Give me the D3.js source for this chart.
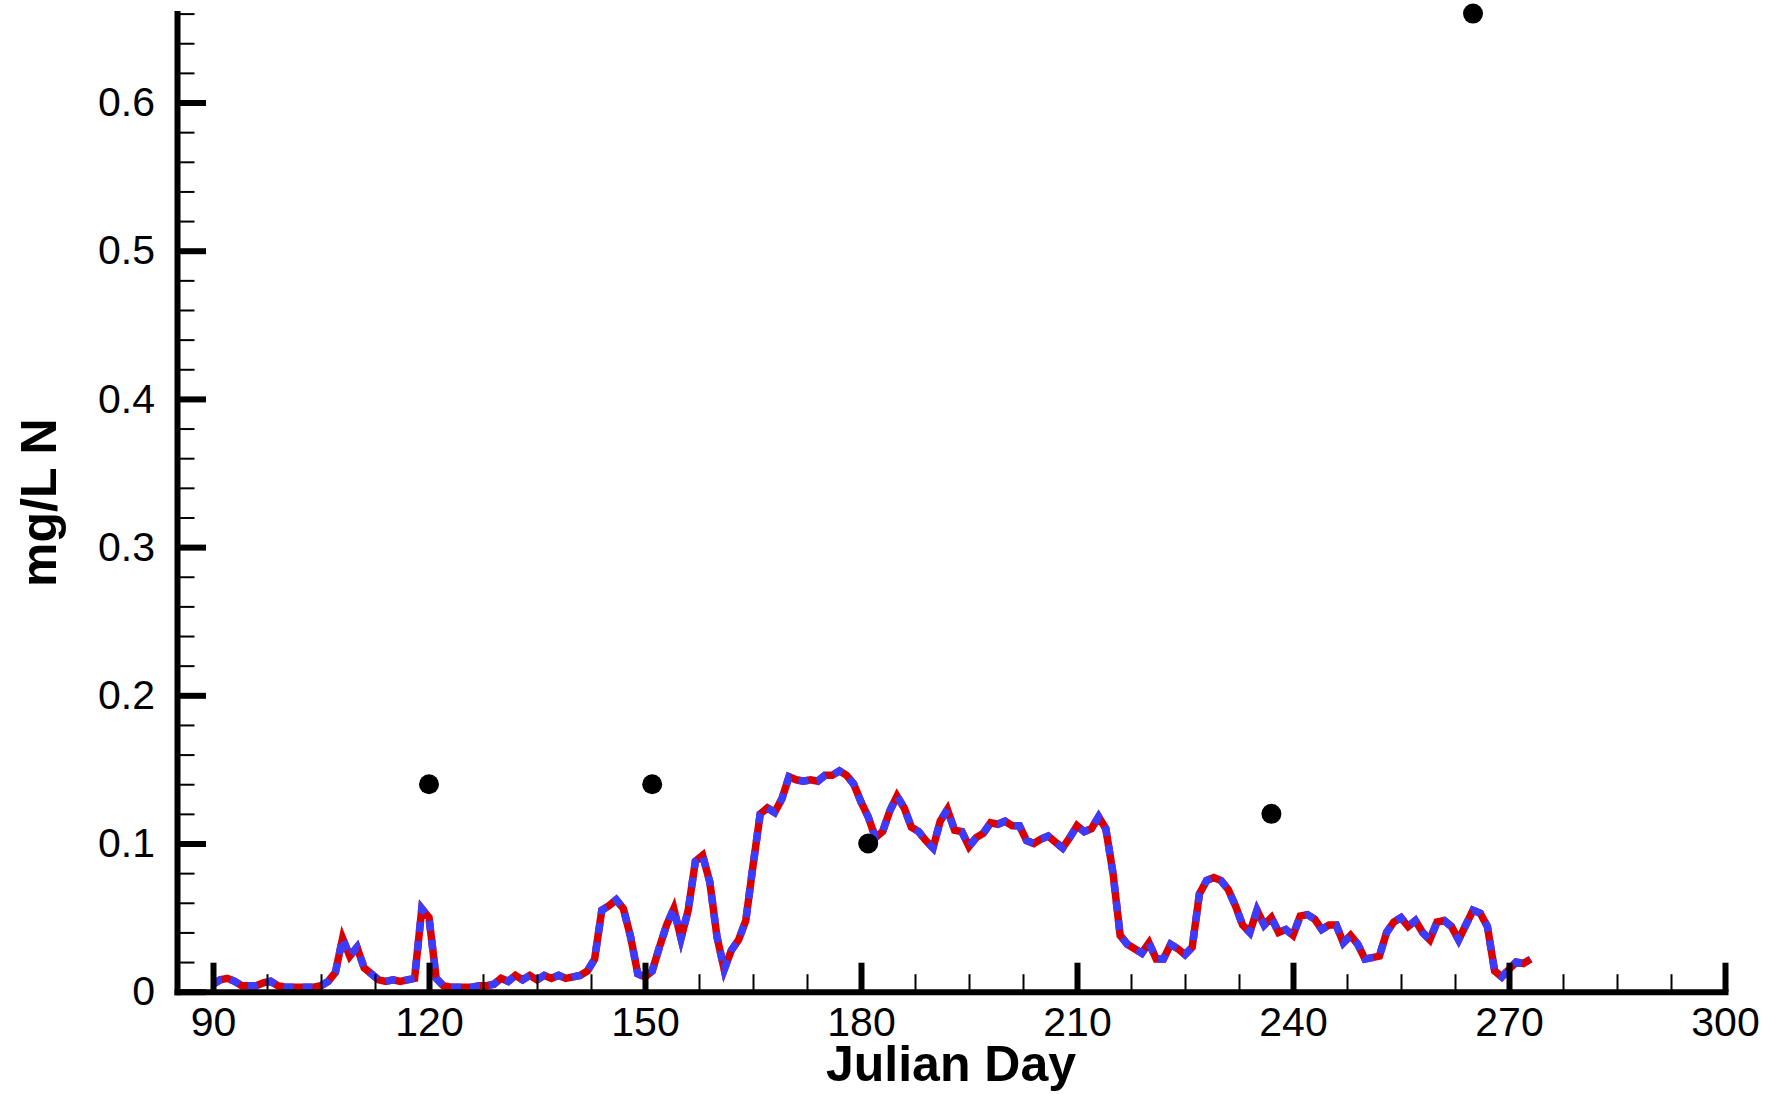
<!DOCTYPE html>
<html>
<head>
<meta charset="utf-8">
<script src="https://cdn.jsdelivr.net/npm/d3@7"></script>
<style>
  html, body { margin: 0; padding: 0; background: #fff; }
  svg { display: block; }
  text { font-family: "Liberation Sans", Arial, Helvetica, sans-serif; fill: #000; }
</style>
</head>
<body>
<svg id="chart" width="1767" height="1094"></svg>
<script>
// ---- Data ----
const firstDay = 90;                 // simulated series: one value per Julian day starting here
const modelValues = [
  0.005, 0.008, 0.009, 0.007, 0.004, 0.004, 0.004, 0.006, 0.007, 0.004,
  0.003, 0.003, 0.003, 0.003, 0.003, 0.004, 0.007, 0.013, 0.036, 0.024,
  0.030, 0.016, 0.012, 0.008, 0.007, 0.008, 0.007, 0.008, 0.009, 0.056,
  0.050, 0.009, 0.004, 0.003, 0.003, 0.003, 0.003, 0.004, 0.004, 0.005,
  0.009, 0.007, 0.011, 0.008, 0.011, 0.008, 0.011, 0.009, 0.011, 0.009,
  0.010, 0.011, 0.014, 0.022, 0.055, 0.058, 0.062, 0.056, 0.037, 0.012,
  0.010, 0.014, 0.030, 0.045, 0.056, 0.036, 0.055, 0.088, 0.092, 0.074,
  0.037, 0.015, 0.028, 0.035, 0.048, 0.085, 0.120, 0.124, 0.121, 0.130,
  0.145, 0.143, 0.142, 0.143, 0.142, 0.146, 0.146, 0.149, 0.146, 0.140,
  0.128, 0.118, 0.104, 0.108, 0.122, 0.132, 0.124, 0.111, 0.108, 0.102,
  0.097, 0.115, 0.123, 0.109, 0.108, 0.098, 0.104, 0.107, 0.114, 0.113,
  0.115, 0.112, 0.112, 0.102, 0.100, 0.103, 0.105, 0.101, 0.097, 0.104,
  0.112, 0.108, 0.110, 0.118, 0.110, 0.080, 0.038, 0.032, 0.029, 0.026,
  0.033, 0.022, 0.022, 0.032, 0.029, 0.025, 0.030, 0.066, 0.075, 0.077,
  0.075, 0.069, 0.058, 0.045, 0.040, 0.055, 0.045, 0.050, 0.040, 0.042,
  0.038, 0.051, 0.052, 0.049, 0.042, 0.045, 0.045, 0.033, 0.038, 0.032,
  0.022, 0.023, 0.024, 0.040, 0.047, 0.050, 0.044, 0.048, 0.040, 0.035,
  0.047, 0.048, 0.044, 0.035, 0.045, 0.055, 0.053, 0.044, 0.014, 0.010,
  0.015, 0.020, 0.019, 0.022
];
// observations (black dots)
const obsDays   = [120, 151, 181, 237, 265];
const obsValues = [0.14, 0.14, 0.10, 0.12, 0.66];

// axis ticks
const xMajorTicks = [90, 120, 150, 180, 210, 240, 270, 300];
const yMajorTicks = [0, 0.1, 0.2, 0.3, 0.4, 0.5, 0.6];
const yTickLabels = ["0", "0.1", "0.2", "0.3", "0.4", "0.5", "0.6"];
const xTitle = "Julian Day";
const yTitle = "mg/L N";

// ---- Scales ----
const x = d3.scaleLinear().domain([85, 300]).range([177, 1725]);
const y = d3.scaleLinear().domain([0, 0.66]).range([991.7, 13.6]);

const svg = d3.select("#chart");

const series = modelValues.map((v, i) => ({ day: firstDay + i, value: v }));
const obs = obsDays.map((d, i) => ({ day: d, value: obsValues[i] }));

// minor tick values
const xMinor = d3.range(97.5, 300, 7.5).filter(t => !xMajorTicks.some(m => Math.abs(m - t) < 1e-6));
const yMinor = d3.range(0.02, 0.661, 0.02).filter(t => !yMajorTicks.some(m => Math.abs(m - t) < 1e-6));

// ---- Lines ----
const line = d3.line().x(d => x(d.day)).y(d => y(d.value));

svg.append("path")
  .datum(series)
  .attr("d", line)
  .attr("fill", "none")
  .attr("stroke", "#d80000")
  .attr("stroke-width", 7.5)
  .attr("stroke-linejoin", "miter")
  .attr("stroke-miterlimit", 8);

svg.append("path")
  .datum(series)
  .attr("d", line)
  .attr("fill", "none")
  .attr("stroke", "#3c3cff")
  .attr("stroke-width", 7.5)
  .attr("stroke-dasharray", "10,9")
  .attr("stroke-linejoin", "miter")
  .attr("stroke-miterlimit", 8);

// ---- Observations ----
svg.append("g").selectAll("circle")
  .data(obs)
  .join("circle")
  .attr("cx", d => x(d.day))
  .attr("cy", d => y(d.value))
  .attr("r", 10)
  .attr("fill", "#000");

// ---- Axes ----
const gx = svg.append("g").attr("transform", `translate(0,${y(0)})`);
gx.call(d3.axisBottom(x).tickValues(xMajorTicks).tickSize(-29).tickSizeOuter(0).tickPadding(15).tickFormat(d3.format("d")));
gx.select(".domain").attr("stroke", "#000").attr("stroke-width", 6).attr("stroke-linecap", "square");
gx.selectAll(".tick line").attr("stroke", "#000").attr("stroke-width", 6);
gx.selectAll(".tick text").attr("font-size", 41).attr("fill", "#000")
  .style("font-family", "'Liberation Sans', Arial, sans-serif");

const gxm = svg.append("g").attr("transform", `translate(0,${y(0)})`);
gxm.call(d3.axisBottom(x).tickValues(xMinor).tickSize(-17.5).tickSizeOuter(0).tickFormat(""));
gxm.select(".domain").remove();
gxm.selectAll(".tick line").attr("stroke", "#000").attr("stroke-width", 2);

const gy = svg.append("g").attr("transform", `translate(${x(85)},0)`);
gy.call(d3.axisLeft(y).tickValues(yMajorTicks).tickSize(-29).tickSizeOuter(0).tickPadding(22)
  .tickFormat((d, i) => yTickLabels[i]));
gy.select(".domain").attr("stroke", "#000").attr("stroke-width", 6).attr("stroke-linecap", "square");
gy.selectAll(".tick line").attr("stroke", "#000").attr("stroke-width", 6);
gy.selectAll(".tick text").attr("font-size", 41).attr("fill", "#000")
  .style("font-family", "'Liberation Sans', Arial, sans-serif");

const gym = svg.append("g").attr("transform", `translate(${x(85)},0)`);
gym.call(d3.axisLeft(y).tickValues(yMinor).tickSize(-17.5).tickSizeOuter(0).tickFormat(""));
gym.select(".domain").remove();
gym.selectAll(".tick line").attr("stroke", "#000").attr("stroke-width", 2);

// ---- Titles ----
svg.append("text")
  .attr("x", (x(85) + x(300)) / 2)
  .attr("y", 1081)
  .attr("text-anchor", "middle")
  .attr("font-size", 50)
  .attr("font-weight", "bold")
  .text(xTitle);

svg.append("text")
  .attr("transform", `translate(56,${(y(0) + y(0.66)) / 2}) rotate(-90)`)
  .attr("text-anchor", "middle")
  .attr("font-size", 50)
  .attr("font-weight", "bold")
  .text(yTitle);
</script>
</body>
</html>
